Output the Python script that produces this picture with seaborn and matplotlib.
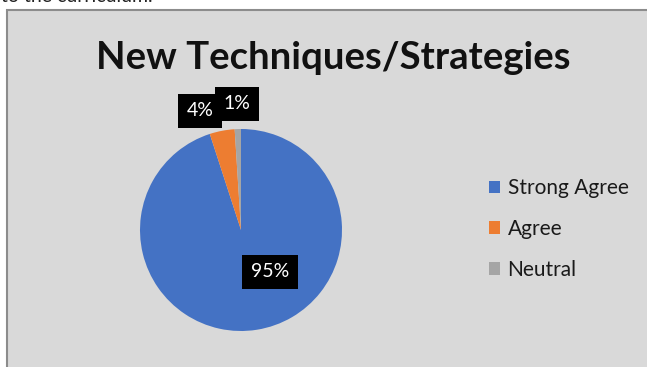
import numpy as np
import matplotlib
matplotlib.use("Agg")
import matplotlib.pyplot as plt
import seaborn as sns
from matplotlib.patches import Rectangle

# data
categories = ["Strong Agree", "Agree", "Neutral"]
shares = [95, 4, 1]
pct_labels = ["95%", "4%", "1%"]
colors = ["#4472C4", "#ED7D31", "#A5A5A5"]
title = "New Techniques/Strategies"

sns.set_style("white")
plt.rcParams["font.family"] = ["Lato", "DejaVu Sans"]

W, H = 647, 367
fig = plt.figure(figsize=(W / 100, H / 100), dpi=100)
fig.patch.set_facecolor("white")

# chart box pasted into the document
fig.patches.append(Rectangle((7 / W, -0.01), 1.0, (H - 10) / H + 0.01,
                             transform=fig.transFigure, facecolor="#D9D9D9",
                             edgecolor="#8C8C8C", linewidth=1.5, zorder=-5))
# cut-off document text above the chart
fig.text(1 / W, 1.0 + 3 / H, "to the curriculum.", fontsize=14,
         color="#222222", va="center", ha="left")

fig.text(333 / W, 1 - 58 / H, title, fontsize=27.5, fontweight="bold",
         color="#111111", ha="center", va="center")

cx, cy, r = 241, 230, 101
ax = fig.add_axes([(cx - r) / W, (H - cy - r) / H, 2 * r / W, 2 * r / H])
wedges, _ = ax.pie(shares, colors=colors, startangle=90, counterclock=False,
                   wedgeprops=dict(linewidth=0))
ax.set_xlim(-1, 1)
ax.set_ylim(-1, 1)
ax.set_aspect("equal")
ax.axis("off")

# data labels in black boxes
label_r = [0.42, 1.2, 1.25]
label_shift = [0.22, -0.18, 0.0]
for w, txt, lr, sh in zip(wedges, pct_labels, label_r, label_shift):
    ang = np.deg2rad((w.theta1 + w.theta2) / 2)
    x = lr * np.cos(ang) + sh
    y = lr * np.sin(ang)
    ax.text(x, y, txt, color="white", fontsize=14, ha="center", va="center",
            bbox=dict(facecolor="black", edgecolor="none", boxstyle="square,pad=0.45"),
            clip_on=False, zorder=5)

leg = fig.legend(wedges, categories, loc="center left",
                 bbox_to_anchor=(470 / W, 1 - 229 / H), frameon=False,
                 fontsize=15, handlelength=0.55, handleheight=0.55,
                 handletextpad=0.35, labelspacing=1.0)
for t in leg.get_texts():
    t.set_color("#1a1a1a")

fig.savefig("out.png", dpi=100, facecolor=fig.get_facecolor())
